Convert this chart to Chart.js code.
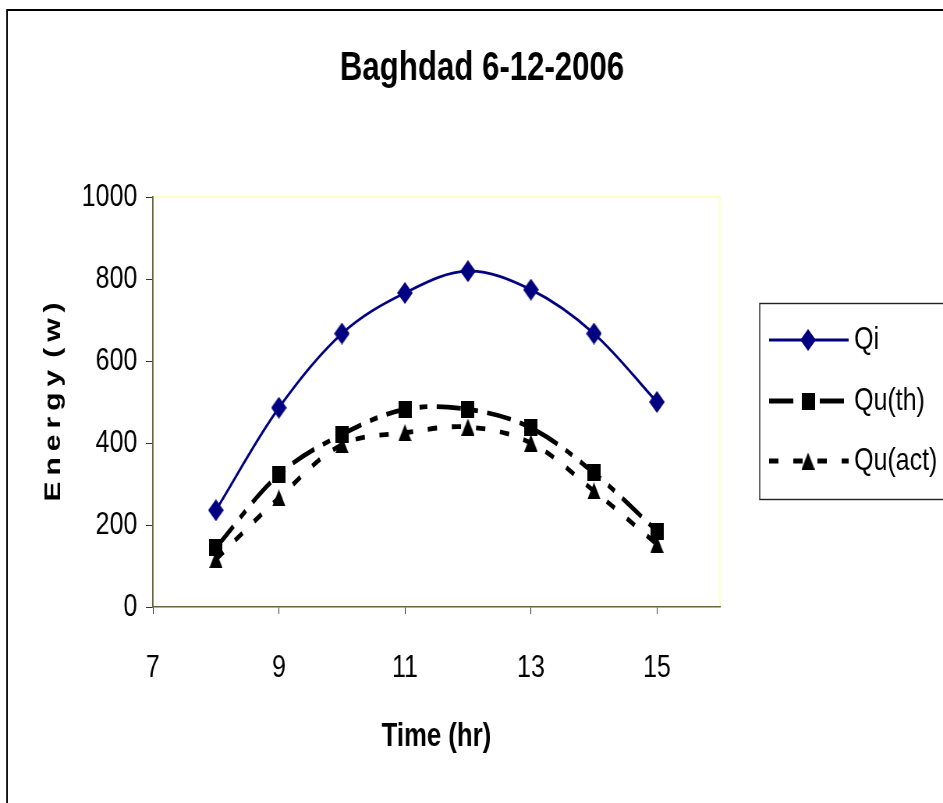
<!DOCTYPE html>
<html>
<head>
<meta charset="utf-8">
<script src="https://cdn.jsdelivr.net/npm/chart.js@4.4.1/dist/chart.umd.min.js"></script>
<style>
  html, body { margin: 0; padding: 0; background: #ffffff; overflow: hidden; }
  #wrap { position: relative; width: 943px; height: 803px; overflow: hidden; }
  /* the reference uses a condensed (narrow) face: render wider and condense horizontally */
  #c { position: absolute; left: 0; top: 0; transform: scaleX(0.78); transform-origin: 0 0; }
</style>
</head>
<body>
<div id="wrap"><canvas id="c" width="1209" height="803"></canvas></div>
<script>
// ---- data ----
const hours = [8, 9, 10, 11, 12, 13, 14, 15];
const qi = [236, 486, 667, 766, 819, 774, 667, 500];
const quTh = [145, 323, 421, 482, 482, 437, 327, 185];
const quAct = [116, 266, 396, 425, 439, 400, 283, 153];
const seriesNames = ['Qi', 'Qu(th)', 'Qu(act)'];
const xTicks = [7, 9, 11, 13, 15];
const yTicks = [0, 200, 400, 600, 800, 1000];
const titleText = 'Baghdad 6-12-2006';
const xTitle = 'Time (hr)';
const yTitle = 'E\u2009n\u2009e\u2009r\u2009g\u2009y\u2009\u2009(\u2009w\u2009)';

const FONT = "'Liberation Sans', Arial, sans-serif";

function makeMarker(kind, w, h, color) {
  const c = document.createElement('canvas');
  c.width = w; c.height = h;
  const g = c.getContext('2d');
  g.fillStyle = color;
  g.beginPath();
  if (kind === 'diamond') {
    g.moveTo(w / 2, 0); g.lineTo(w, h / 2); g.lineTo(w / 2, h); g.lineTo(0, h / 2);
  } else if (kind === 'square') {
    g.rect(0, 0, w, h);
  } else {
    g.moveTo(w / 2, 0); g.lineTo(w, h); g.lineTo(0, h);
  }
  g.closePath();
  g.fill();
  return c;
}
const diamond = makeMarker('diamond', 20, 22, '#000080');
const square = makeMarker('square', 17, 17, '#000000');
const triangle = makeMarker('triangle', 17, 17, '#000000');

const toXY = arr => hours.map((h, i) => ({ x: h, y: arr[i] }));

const dashes = [[], [31, 12, 10, 12], [12, 19]];
const markers = [diamond, square, triangle];
const colors = ['#000080', '#000000', '#000000'];
const widths = [2.8, 4.8, 4.8];

const frameAndLegend = {
  id: 'frameAndLegend',
  beforeDraw(chart) {
    const ctx = chart.ctx;
    ctx.save();
    ctx.fillStyle = '#ffffff';
    ctx.fillRect(0, 0, chart.width, chart.height);
    ctx.strokeStyle = '#000000';
    ctx.lineWidth = 2;
    ctx.strokeRect(9, 10, 1400, 1000);
    const a = chart.chartArea;
    ctx.strokeStyle = '#ffffc0';
    ctx.lineWidth = 2;
    ctx.beginPath();
    ctx.moveTo(a.left, a.top);
    ctx.lineTo(a.right, a.top);
    ctx.lineTo(a.right, a.bottom);
    ctx.stroke();
    ctx.restore();
  },
  afterDraw(chart) {
    const ctx = chart.ctx;
    ctx.save();
    ctx.strokeStyle = '#222222';
    ctx.lineWidth = 1.4;
    ctx.strokeRect(974, 303.5, 400, 196);
    const ys = [340, 401, 461];
    chart.data.datasets.forEach((ds, i) => {
      const y = ys[i];
      ctx.save();
      ctx.strokeStyle = colors[i];
      ctx.lineWidth = widths[i];
      ctx.setLineDash(dashes[i]);
      ctx.beginPath();
      ctx.moveTo(986, y);
      ctx.lineTo(1088, y);
      ctx.stroke();
      ctx.restore();
      const m = markers[i];
      ctx.drawImage(m, 1036 - m.width / 2, y - m.height / 2);
      ctx.fillStyle = '#000000';
      ctx.font = '32px ' + FONT;
      ctx.textBaseline = 'middle';
      ctx.textAlign = 'left';
      ctx.fillText(ds.label, 1095, y);
    });
    ctx.restore();
  }
};

new Chart(document.getElementById('c'), {
  type: 'line',
  data: {
    datasets: [qi, quTh, quAct].map((arr, i) => ({
      label: seriesNames[i],
      data: toXY(arr),
      borderColor: colors[i],
      backgroundColor: colors[i],
      borderWidth: widths[i],
      borderDash: dashes[i],
      pointStyle: markers[i],
      tension: 0.35,
      fill: false
    }))
  },
  options: {
    responsive: false,
    animation: false,
    devicePixelRatio: 1,
    layout: { padding: { left: 27, right: 0, top: 0, bottom: 0 } },
    plugins: {
      legend: { display: false },
      tooltip: { enabled: false },
      title: {
        display: true,
        text: titleText,
        color: '#000000',
        font: { family: FONT, size: 40, weight: 'bold' },
        padding: { top: 45, bottom: 104 }
      }
    },
    scales: {
      x: {
        type: 'linear',
        min: 7, max: 16,
        afterFit(s) { s.height = 196; },
        afterBuildTicks(s) { s.ticks = xTicks.map(v => ({ value: v })); },
        ticks: { color: '#000000', font: { family: FONT, size: 32 }, padding: 35, maxRotation: 0,
                 callback: v => String(v) },
        grid: { drawOnChartArea: false, drawTicks: true, tickLength: 7, color: '#333333' },
        border: { display: true, color: '#66663a', width: 1.5 },
        title: {
          display: true, text: xTitle, color: '#000000',
          font: { family: FONT, size: 33, weight: 'bold' },
          padding: { top: 46, bottom: 46 }
        }
      },
      y: {
        type: 'linear',
        min: 0, max: 1000,
        afterFit(s) { s.width = 169; },
        afterBuildTicks(s) { s.ticks = yTicks.map(v => ({ value: v })); },
        ticks: { color: '#000000', font: { family: FONT, size: 32 }, padding: 11,
                 callback: v => String(v) },
        grid: { drawOnChartArea: false, drawTicks: true, tickLength: 9, color: '#333333' },
        border: { display: true, color: '#66663a', width: 1.8 },
        title: {
          display: true, text: yTitle, color: '#000000',
          font: { family: FONT, size: 30, weight: 'bold' },
          padding: { top: 24, bottom: 24 }
        }
      },
      yRight: {
        type: 'linear',
        position: 'right',
        min: 0, max: 1000,
        afterFit(s) { s.width = 286; },
        ticks: { display: false },
        grid: { display: false, drawTicks: false },
        border: { display: false },
        title: { display: false }
      }
    }
  },
  plugins: [frameAndLegend]
});
</script>
</body>
</html>
